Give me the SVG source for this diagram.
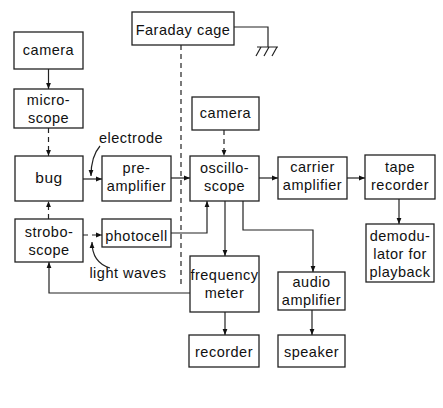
<svg xmlns="http://www.w3.org/2000/svg" width="443" height="408" viewBox="0 0 443 408">
<defs>
<marker id="ah" viewBox="0 0 10 10" refX="10" refY="5" markerWidth="6" markerHeight="6" markerUnits="userSpaceOnUse" orient="auto">
<path d="M0,1 L10,5 L0,9 z" fill="#111"/>
</marker>
</defs>
<style>
rect.box{fill:#fff;stroke:#222;stroke-width:1.3}
text{font-family:"Liberation Sans","DejaVu Sans",sans-serif;font-size:14.5px;fill:#111;text-anchor:middle;letter-spacing:0.5px}
.ln{fill:none;stroke:#222;stroke-width:1.2}
.arr{fill:none;stroke:#222;stroke-width:1.2;marker-end:url(#ah)}
.dash{stroke-dasharray:5,4}
</style>
<rect width="443" height="408" fill="#fff"/>
<g id="connectors">
<path class="ln dash" d="M181,45 V286"/>
<path class="ln" d="M234,27 H268 V47"/>
<path class="ln" d="M256,56 L261,47 M264,56 L269,47 M272,56 L277,47 M257,47 H278"/>
<path class="arr" d="M48.5,69 V89"/>
<path class="arr dash" d="M48.5,128 V156"/>
<path class="arr" d="M83,179 H102"/>
<path class="arr" d="M171,178 H190"/>
<path class="arr dash" d="M224,130 V156"/>
<path class="arr" d="M259,178 H278"/>
<path class="arr" d="M347,178 H365"/>
<path class="arr" d="M399,199 V224"/>
<path class="arr dash" d="M48.5,219 V201"/>
<path class="arr dash" d="M83,235 H102"/>
<path class="arr" d="M171,233 H207 V201"/>
<path class="arr" d="M225,201 V256"/>
<path class="arr" d="M243,201 V230 H313 V272"/>
<path class="arr" d="M225,312 V335"/>
<path class="arr" d="M312,310 V335"/>
<path class="arr" d="M190,293 H49 V262"/>
<path class="arr" d="M100,146 C93,154 91,164 91,176"/>
<path class="arr" d="M110,268 C97,264 92,255 92,242"/>
</g>
<g id="faraday"><rect class="box" x="132" y="12" width="102" height="33"/><text x="183" y="35">Faraday cage</text></g>
<g id="camera1"><rect class="box" x="14" y="32" width="69" height="37"/><text x="48.5" y="55">camera</text></g>
<g id="microscope"><rect class="box" x="14" y="89" width="69" height="39"/><text x="48.5" y="105">micro-</text><text x="48.5" y="123">scope</text></g>
<g id="bug"><rect class="box" x="15" y="156" width="68" height="45"/><text x="49" y="183" style="font-size:15.5px">bug</text></g>
<g id="preamp"><rect class="box" x="102" y="156" width="69" height="45"/><text x="136.5" y="173">pre-</text><text x="136.5" y="191">amplifier</text></g>
<g id="camera2"><rect class="box" x="192" y="97" width="67" height="33"/><text x="225.5" y="118">camera</text></g>
<g id="oscilloscope"><rect class="box" x="190" y="156" width="69" height="45"/><text x="224.5" y="173">oscillo-</text><text x="224.5" y="191">scope</text></g>
<g id="carrier"><rect class="box" x="278" y="157" width="69" height="42"/><text x="312.5" y="172">carrier</text><text x="312.5" y="190">amplifier</text></g>
<g id="tape"><rect class="box" x="365" y="155" width="70" height="44"/><text x="400" y="172">tape</text><text x="400" y="190">recorder</text></g>
<g id="demodulator"><rect class="box" x="366" y="224" width="68" height="58"/><text x="400" y="241">demodu-</text><text x="400" y="259">lator for</text><text x="400" y="277">playback</text></g>
<g id="stroboscope"><rect class="box" x="15" y="219" width="68" height="43"/><text x="49" y="237">strobo-</text><text x="49" y="255">scope</text></g>
<g id="photocell"><rect class="box" x="102" y="219" width="69" height="28"/><text x="136.5" y="241">photocell</text></g>
<g id="freqmeter"><rect class="box" x="190" y="256" width="69" height="56"/><text x="224.5" y="280">frequency</text><text x="224.5" y="298">meter</text></g>
<g id="audioamp"><rect class="box" x="278" y="272" width="67" height="38"/><text x="311.5" y="287">audio</text><text x="311.5" y="305">amplifier</text></g>
<g id="recorder"><rect class="box" x="189" y="335" width="70" height="32"/><text x="224" y="357">recorder</text></g>
<g id="speaker"><rect class="box" x="278" y="335" width="67" height="32"/><text x="311.5" y="357">speaker</text></g>
<g id="labels"><text x="131" y="143">electrode</text><text x="128" y="278">light waves</text></g>
</svg>
